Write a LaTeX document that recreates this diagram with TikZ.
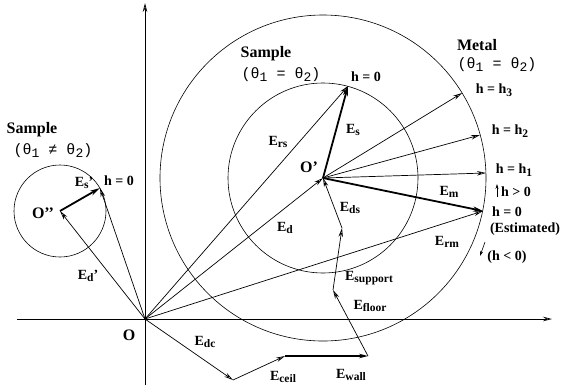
\documentclass[tikz,border=0pt]{standalone}
\usepackage{fontspec}
\setmainfont{Liberation Serif}
\newfontfamily\thfont{Liberation Mono}
\usetikzlibrary{arrows.meta}
\newcommand{\lsub}[1]{\raisebox{-0.4ex}{\fontsize{11.5}{11.5}\selectfont #1}}
\newcommand{\tsub}[1]{\raisebox{-0.3ex}{\fontsize{13}{13}\selectfont #1}}
\tikzset{
  ar/.style={-{Stealth[open,length=9pt,width=4.5pt]}, line width=0.7pt},
  bar/.style={-{Stealth[open,length=10pt,width=5pt]}, line width=1.8pt},
  ln/.style={line width=0.6pt},
  lab/.style={font=\fontsize{14}{14}\selectfont\bfseries, inner sep=0pt},
  big/.style={font=\fontsize{16}{16}\selectfont\bfseries, inner sep=0pt},
  th/.style={font=\fontsize{15}{15}\thfont, inner sep=0pt},
}
\begin{document}
\begin{tikzpicture}[x=1pt,y=-1pt]
\useasboundingbox (0,0) rectangle (579,389);
% points
\coordinate (O) at (145,319);
\coordinate (Opp) at (60,211);
\coordinate (hs) at (100,188);
\coordinate (Op) at (323,178);
\coordinate (hA) at (348,86);
\coordinate (h3) at (462,93);
\coordinate (h2) at (480,135);
\coordinate (h1) at (486,173);
\coordinate (h0) at (483,211);
\coordinate (c1) at (233,380);
\coordinate (c2) at (285,356);
\coordinate (c3) at (368,356);
\coordinate (c4) at (333,290);
\coordinate (c5) at (342,228);
\coordinate (xl) at (17,319);
\coordinate (xr) at (552,319);
\coordinate (yb) at (145,385);
\coordinate (yt) at (145,3);
\coordinate (sa) at (485,242);
\coordinate (sb) at (480,256);
\coordinate (ua) at (497,197);
\coordinate (ub) at (497,184);
% axes
\draw[ar] (xl) -- (xr);
\draw[ar] (yb) -- (yt);
% circles
\draw[ln] (Opp) circle[radius=46];
\draw[ln] (Op) circle[radius=95];
\draw[ln] (Op) circle[radius=163];
% vectors from O
\draw[ar] (O) -- (Opp);
\draw[ar] (O) -- (hs);
\draw[ar] (O) -- (Op);
\draw[ar] (O) -- (hA);
\draw[ar] (O) -- (h0);
% from O'
\draw[ar] (Op) -- (h3);
\draw[ar] (Op) -- (h2);
\draw[ar] (Op) -- (h1);
\draw[bar] (Op) -- (h0);
\draw[bar] (Op) -- (hA);
\draw[bar] (Opp) -- (hs);
% chain
\draw[ar] (O) -- (c1);
\draw[ar] (c1) -- (c2);
\draw[-{Stealth[open,length=9pt,width=4.5pt]}, line width=1.2pt] (c2) -- (c3);
\draw[ar] (c3) -- (c4);
\draw[ar] (c4) -- (c5);
\draw[ar] (c5) -- (Op);
% small arrows
\draw[-{Stealth[length=5pt,width=3pt]}, line width=0.6pt] (sa) -- (sb);
\draw[-{Stealth[length=5pt,width=3pt]}, line width=0.6pt] (ua) -- (ub);
% labels
\node[big] (tS1) at (32,130) {Sample};
\node[th] (tS1b) at (53,151) {(θ\tsub{1} ≠ θ\tsub{2})};
\node[big] (tS2) at (266,54) {Sample};
\node[th] (tS2b) at (281,75) {(θ\tsub{1} = θ\tsub{2})};
\node[big] (tM) at (477,45) {Metal};
\node[th] (tMb) at (497,65) {(θ\tsub{1} = θ\tsub{2})};
\node[big] (lOpp) at (43,213) {O'{}'};
\node[lab] (lEsp) at (84,183) {E\lsub{s}'};
\node[lab] (lhs) at (119,181) {h = 0};
\node[lab] (lEdp) at (88,276) {E\lsub{d}'};
\node[lab] (lhA) at (366,77) {h = 0};
\node[lab] (lErs) at (278,142) {E\lsub{rs}};
\node[lab] (lEs) at (353,130) {E\lsub{s}};
\node[big] (lOp) at (309,167) {O'};
\node[lab] (lh3) at (494,90) {h = h\lsub{3}};
\node[lab] (lh2) at (510,131) {h = h\lsub{2}};
\node[lab] (lh1) at (514,170) {h = h\lsub{1}};
\node[lab] (lhp) at (516,192) {h > 0};
\node[lab] (lEm) at (449,192) {E\lsub{m}};
\node[lab] (lh0) at (507,212) {h = 0};
\node[lab] (lest) at (525,229) {(Estimated)};
\node[lab] (lhn) at (507,257) {(h < 0)};
\node[lab] (lErm) at (447,242) {E\lsub{rm}};
\node[lab] (lEds) at (350,208) {E\lsub{ds}};
\node[lab] (lEd) at (285,228) {E\lsub{d}};
\node[lab] (lEsup) at (369,278) {E\lsub{support}};
\node[lab] (lEfl) at (370,306) {E\lsub{floor}};
\node[big] (lO) at (129,335) {O};
\node[lab] (lEdc) at (205,342) {E\lsub{dc}};
\node[lab] (lEce) at (283,377) {E\lsub{ceil}};
\node[lab] (lEwa) at (351,375) {E\lsub{wall}};
\end{tikzpicture}
\end{document}
